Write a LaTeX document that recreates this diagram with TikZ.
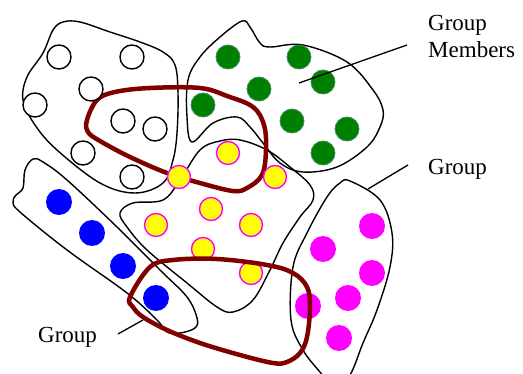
\documentclass[tikz,border=0pt]{standalone}
\usepackage{fontspec}
\setmainfont{Liberation Serif}
\definecolor{mymaroon}{RGB}{128,0,0}
\definecolor{mymagenta}{RGB}{255,0,255}
\definecolor{myyellow}{RGB}{255,255,0}
\definecolor{myblue}{RGB}{0,0,255}
\definecolor{mygreen}{RGB}{0,128,0}
\definecolor{mygreenedge}{RGB}{60,140,90}
\begin{document}
\begin{tikzpicture}[x=1pt,y=-1pt,
  blob/.style={draw=black,line width=1.4pt,smooth cycle,tension=0.6},
  loopline/.style={draw=mymaroon,line width=4.5pt,smooth cycle,tension=0.6},
  hollowdot/.style={circle,draw=black,line width=1.4pt,fill=white,minimum size=24pt,inner sep=0pt},
  greendot/.style={circle,draw=mygreenedge,line width=0.8pt,fill=mygreen,minimum size=24pt,inner sep=0pt},
  yellowdot/.style={circle,draw=mymagenta,line width=1.4pt,fill=myyellow,minimum size=23pt,inner sep=0pt},
  bluedot/.style={circle,fill=myblue,minimum size=26pt,inner sep=0pt},
  magdot/.style={circle,fill=mymagenta,minimum size=26pt,inner sep=0pt},
  callout/.style={draw=black,line width=1.3pt},
  lbl/.style={font=\fontsize{23}{27}\selectfont,inner sep=0pt,align=left}]
\useasboundingbox (0,0) rectangle (523,374);
\clip (0,0) rectangle (523,374);
% blobs
\draw[blob] plot coordinates {(63,22) (80,22) (110,32) (140,42) (163,52) (175,65) (178,93) (177,133) (173,160) (163,183) (135,193) (100,183) (57,150) (35,125) (23,100) (27,77) (43,53) (53,30)};
\draw[blob] plot coordinates {(192,142) (187,117) (188,80) (200,57) (220,37) (242,21) (250,27) (260,43) (270,47) (303,45) (347,62) (373,90) (383,110) (380,127) (367,147) (337,167) (303,172) (280,163) (263,143) (250,127) (237,117) (213,123)};
\draw[blob] plot coordinates {(120,213) (133,203) (163,200) (180,180) (200,150) (220,141) (240,140) (267,150) (290,167) (310,185) (313,200) (300,217) (283,243) (270,270) (253,300) (233,312) (217,307) (187,283) (147,250) (127,227)};
\draw[blob] plot coordinates {(33,159) (25,170) (23,188) (16,195) (13,202) (20,212) (67,250) (127,293) (157,320) (167,332) (180,333) (195,328) (197,318) (187,297) (160,270) (117,227) (67,180) (43,162)};
\draw[blob] plot coordinates {(350,181) (380,200) (392,233) (390,267) (377,310) (363,343) (350,375) (335,388) (320,372) (303,350) (291,320) (293,267) (307,233) (327,197) (340,183)};
% top group loop
\draw[loopline] plot coordinates {(87,120) (97,100) (115,92) (150,88) (200,88) (227,96) (253,107) (264,125) (266,150) (262,175) (247,188) (233,191) (200,183) (167,173) (130,157) (100,141) (88,132)};
% members
\foreach \p [count=\i] in {(59,57),(132,57),(91,89),(35,105),(123,121),(155,129),(83,153),(132,177)}
  \node[hollowdot] (w\i) at \p {};
\foreach \p [count=\i] in {(228,57),(299,57),(323,82),(259,89),(203,105),(292,121),(347,129),(323,153)}
  \node[greendot] (g\i) at \p {};
\foreach \p [count=\i] in {(179,177),(228,153),(275,177),(211,209),(156,225),(251,225),(203,249),(251,273)}
  \node[yellowdot] (y\i) at \p {};
\foreach \p [count=\i] in {(59,202),(92,233),(123,266),(156,298)}
  \node[bluedot] (b\i) at \p {};
\foreach \p [count=\i] in {(372,226),(323,249),(372,273),(348,298),(308,306),(339,338)}
  \node[magdot] (m\i) at \p {};
% bottom group loop
\draw[loopline] plot coordinates {(130,297) (150,267) (173,260) (217,259) (267,265) (293,273) (307,287) (310,307) (307,337) (300,353) (287,362) (273,363) (240,355) (200,343) (167,330) (143,317) (133,307)};
% labels
\node[lbl,anchor=base west] (tm) at (428,58) {Group\\Members};
\node[lbl,anchor=base west] (tg) at (428,175) {Group};
\node[lbl,anchor=base west] (bg) at (38,343) {Group};
\coordinate (cm1) at (299,83);
\coordinate (cm2) at (407,45);
\coordinate (cg1) at (368,189);
\coordinate (cg2) at (408,165);
\coordinate (cb1) at (118,334);
\coordinate (cb2) at (143,320);
\draw[callout] (cm1) -- (cm2);
\draw[callout] (cg1) -- (cg2);
\draw[callout] (cb1) -- (cb2);
\end{tikzpicture}
\end{document}
